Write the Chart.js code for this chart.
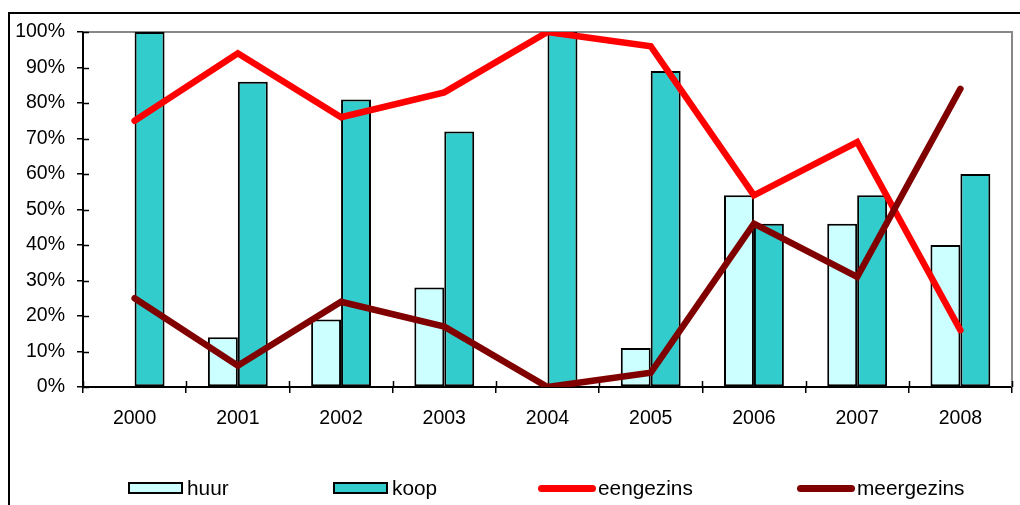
<!DOCTYPE html>
<html>
<head>
<meta charset="utf-8">
<script src="https://cdn.jsdelivr.net/npm/chart.js@4"></script>
<style>
  html, body { margin: 0; padding: 0; background: #fff; }
  #wrap { position: relative; width: 1020px; height: 505px; overflow: hidden; font-family: "Liberation Sans", Arial, sans-serif; }
  #frame { position: absolute; left: 8px; top: 12px; width: 1100px; height: 600px; border-left: 2px solid #000; border-top: 2px solid #000; box-sizing: border-box; pointer-events: none; }
  canvas { position: absolute; left: 0; top: 0; }
  #legend { position: absolute; left: 128px; top: 476px; display: flex; align-items: center; font-size: 20.8px; color: #000; }
  .item { display: flex; align-items: center; white-space: nowrap; }
  .item:nth-child(1) { width: 205px; }
  .item:nth-child(2) { width: 205px; }
  .item:nth-child(3) { width: 259px; }
  .box { width: 51px; height: 8px; border: 2px solid #000; margin-right: 4px; }
  .ln { width: 58px; height: 7px; border-radius: 4px; margin-right: 2px; }
</style>
</head>
<body>
<div id="wrap">
  <canvas id="c" width="1020" height="505"></canvas>
  <div id="frame"></div>
  <div id="legend"></div>
</div>
<script>
const years = ['2000', '2001', '2002', '2003', '2004', '2005', '2006', '2007', '2008'];
const huur = [0, 14, 19, 28, 0, 11, 54, 46, 40];
const koop = [100, 86, 81, 72, 100, 89, 46, 54, 60];
const eengezins = [75, 94, 76, 83, 100, 96, 54, 69, 16];
const meergezins = [25, 6, 24, 17, 0, 4, 46, 31, 84];
const yMin = 0, yMax = 100, yStep = 10;

const FONT = { family: '"Liberation Sans", Arial, sans-serif', size: 19.5 };

// gray frame on the top and right of the plot area, plus the inner half of the cross tick marks
const plotFrame = {
  id: 'plotFrame',
  beforeDatasetsDraw(chart) {
    const { ctx, chartArea: a } = chart;
    ctx.save();
    ctx.strokeStyle = '#888888';
    ctx.lineWidth = 2;
    ctx.beginPath();
    ctx.moveTo(a.left, a.top);
    ctx.lineTo(a.right, a.top);
    ctx.lineTo(a.right, a.bottom);
    ctx.stroke();

    ctx.strokeStyle = '#000';
    ctx.lineWidth = 1.5;
    ctx.beginPath();
    const ys = chart.scales.y;
    ys.ticks.forEach(t => {
      const py = Math.round(ys.getPixelForValue(t.value)) + 0.5;
      ctx.moveTo(a.left, py);
      ctx.lineTo(a.left + 6, py);
    });
    const xs = chart.scales.x;
    const n = years.length;
    for (let i = 0; i <= n; i++) {
      const px = Math.round(xs.left + i * xs.width / n) + 0.5;
      ctx.moveTo(px, a.bottom);
      ctx.lineTo(px, a.bottom - 6);
    }
    ctx.stroke();
    ctx.restore();
  }
};

const datasets = [
  { type: 'bar', label: 'huur', data: huur, backgroundColor: '#CCFFFF', borderColor: '#000', borderWidth: 2, borderSkipped: false, order: 2 },
  { type: 'bar', label: 'koop', data: koop, backgroundColor: '#33CCCC', borderColor: '#000', borderWidth: 2, borderSkipped: false, order: 2 },
  { type: 'line', label: 'eengezins', data: eengezins, borderColor: '#FF0000', backgroundColor: '#FF0000', borderWidth: 6.5, pointRadius: 0, tension: 0, borderCapStyle: 'round', clip: 0, order: 1 },
  { type: 'line', label: 'meergezins', data: meergezins, borderColor: '#800000', backgroundColor: '#800000', borderWidth: 6.5, pointRadius: 0, tension: 0, borderCapStyle: 'round', clip: 0, order: 0 }
];

new Chart(document.getElementById('c'), {
  type: 'bar',
  data: { labels: years, datasets },
  plugins: [plotFrame],
  options: {
    responsive: false,
    animation: false,
    layout: { padding: { left: 0, top: 32, right: 8, bottom: 0 } },
    datasets: { bar: { categoryPercentage: 0.58, barPercentage: 1.0 } },
    plugins: { legend: { display: false }, tooltip: { enabled: false } },
    scales: {
      x: {
        offset: true,
        grid: { display: true, drawOnChartArea: false, drawTicks: true, tickLength: 6, color: '#000', lineWidth: 1.5, offset: true },
        border: { display: true, color: '#000', width: 2 },
        ticks: { font: FONT, color: '#000', padding: 14, maxRotation: 0 },
        afterFit(s) { s.height = 118; }
      },
      y: {
        min: yMin, max: yMax,
        grid: { display: true, drawOnChartArea: false, drawTicks: true, tickLength: 6, color: '#000', lineWidth: 1.5 },
        border: { display: true, color: '#000', width: 2 },
        ticks: { stepSize: yStep, font: FONT, color: '#000', padding: 12, callback: v => v + '%' },
        afterFit(s) { s.width = 83; }
      }
    }
  }
});

// legend row built from the dataset styles
const legend = document.getElementById('legend');
datasets.forEach(d => {
  const item = document.createElement('div');
  item.className = 'item';
  const mark = document.createElement('span');
  if (d.type === 'bar') {
    mark.className = 'box';
    mark.style.background = d.backgroundColor;
  } else {
    mark.className = 'ln';
    mark.style.background = d.borderColor;
  }
  const txt = document.createElement('span');
  txt.textContent = d.label;
  item.appendChild(mark);
  item.appendChild(txt);
  legend.appendChild(item);
});
</script>
</body>
</html>
